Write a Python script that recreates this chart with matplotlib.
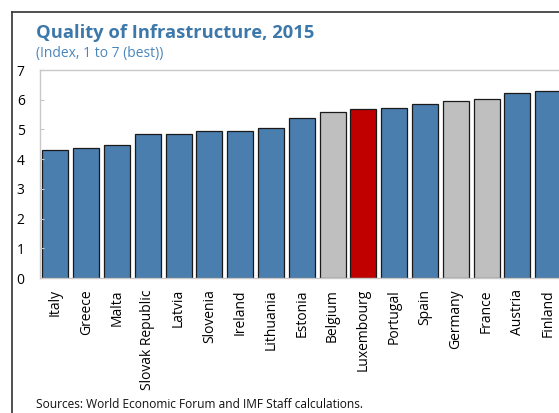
import matplotlib
matplotlib.use("Agg")
import matplotlib.pyplot as plt
from matplotlib.lines import Line2D

countries = ["Italy", "Greece", "Malta", "Slovak Republic", "Latvia", "Slovenia",
             "Ireland", "Lithuania", "Estonia", "Belgium", "Luxembourg", "Portugal",
             "Spain", "Germany", "France", "Austria", "Finland"]
values = [4.31, 4.39, 4.48, 4.83, 4.85, 4.94, 4.94, 5.04, 5.40, 5.59, 5.70,
          5.72, 5.86, 5.94, 6.04, 6.21, 6.30]
groups = ["b", "b", "b", "b", "b", "b", "b", "b", "b", "g", "r", "b", "b", "g", "g", "b", "b"]
yticks = [0, 1, 2, 3, 4, 5, 6, 7]

palette = {"b": "#4a7eae", "g": "#bfbfbf", "r": "#c00000"}
colors = [palette[g] for g in groups]

plt.rcParams['font.family'] = ['Open Sans', 'DejaVu Sans']

W, H = 559, 413
fig = plt.figure(figsize=(W / 100, H / 100), dpi=100)

left_px, top_px, bot_px = 40, 70, 278
slot = 30.8
width_px = slot * len(countries)
ax = fig.add_axes([left_px / W, 1 - bot_px / H, width_px / W, (bot_px - top_px) / H])

x = range(len(countries))
ax.bar(x, values, width=0.84, color=colors, edgecolor="#1a1a1a", linewidth=0.9)
ax.set_xlim(-0.5, len(countries) - 0.5)
ax.set_ylim(0, 7)
ax.set_yticks(yticks)
ax.set_xticks(list(x))
ax.set_xticklabels(countries, rotation=90, fontsize=10)
ax.tick_params(axis='x', length=0, pad=8)
ax.tick_params(axis='y', direction='in', length=3, color='#c8c8c8', pad=11, labelsize=10)
for s in ax.spines.values():
    s.set_color('#c8c8c8')
    s.set_linewidth(1)

fig.add_artist(Line2D([12 / W, 12 / W], [0, 1 - 12 / H], transform=fig.transFigure,
                      color='#333333', linewidth=1.2))
fig.add_artist(Line2D([12 / W, 1], [1 - 12 / H, 1 - 12 / H], transform=fig.transFigure,
                      color='#333333', linewidth=1.2))

fig.text(36 / W, 1 - 33 / H, "Quality of Infrastructure, 2015", fontsize=13.2, fontweight='bold',
         color='#3d78aa', va='center', ha='left')
fig.text(36 / W, 1 - 53 / H, "(Index, 1 to 7 (best))", fontsize=10, color='#4a86bd',
         va='center', ha='left')
fig.text(36 / W, 1 - 405 / H, "Sources: World Economic Forum and IMF Staff calculations.",
         fontsize=8.6, color='#111111', va='center', ha='left')

fig.savefig("out.png", dpi=100)
